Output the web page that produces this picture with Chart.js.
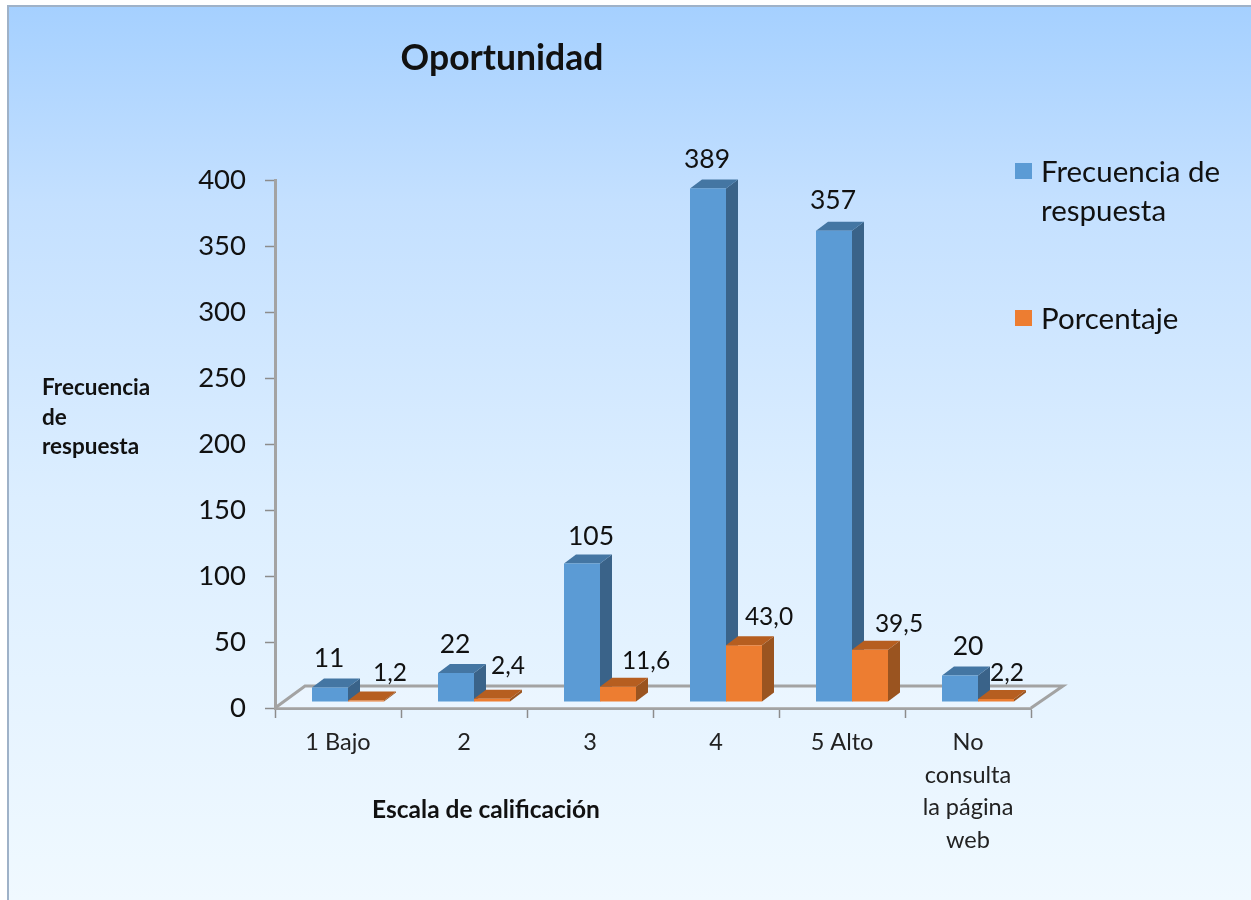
<!DOCTYPE html>
<html lang="es">
<head>
<meta charset="utf-8">
<title>Oportunidad</title>
<script src="https://cdn.jsdelivr.net/npm/chart.js@4/dist/chart.umd.min.js"></script>
<style>html,body{margin:0;padding:0;background:#fff}canvas{display:block}</style>
</head>
<body>
<canvas id="c" width="1251" height="900"></canvas>
<script>
const categories = ["1 Bajo", "2", "3", "4", "5 Alto", ["No", "consulta", "la página", "web"]];
const frecuencia = [11, 22, 105, 389, 357, 20];
const porcentaje = [1.2, 2.4, 11.6, 43.0, 39.5, 2.2];
const seriesNames = ["Frecuencia de respuesta", "Porcentaje"];
const titleText = "Oportunidad";
const yTitleLines = ["Frecuencia", "de", "respuesta"];
const xTitleText = "Escala de calificación";

const FONT = "Lato, Carlito, Calibri, sans-serif";
const TEXT = "#111";
const FACES = [
  {front: "#5B9BD5", top: "#4476A3", side: "#3A6389"},
  {front: "#ED7D31", top: "#B65E20", side: "#9A5420"}
];
// Pseudo-3D projection, pixels
const SHIFT = {x: 10, y: -6}, DEPTH = {x: 12, y: -9}, FLOOR = {left: 30, right: 32, y: -22};
// Hand-placed label offsets from each bar's top-centre, as in the reference
const labelNudge = [
  [[-1, -29], [-1, -29], [9, -27], [-1, -29], [-1, -30], [8, -29]],
  [[24, -27], [16, -33], [28, -26], [25, -28], [29, -26], [11, -26]]
];

function poly(ctx, pts, fill) {
  ctx.beginPath();
  pts.forEach((p, i) => i ? ctx.lineTo(p[0], p[1]) : ctx.moveTo(p[0], p[1]));
  ctx.closePath();
  ctx.fillStyle = fill;
  ctx.fill();
}

const decor = {
  id: "decor",
  beforeDraw(chart) {
    const {ctx, width, height} = chart;
    ctx.save();
    ctx.fillStyle = "#fff";
    ctx.fillRect(0, 0, width, height);
    const g = ctx.createLinearGradient(0, 6, 0, height);
    g.addColorStop(0, "#A5D0FF");
    g.addColorStop(0.22, "#C4E0FF");
    g.addColorStop(0.55, "#DCEEFF");
    g.addColorStop(1, "#F0F9FF");
    ctx.fillStyle = g;
    ctx.fillRect(7, 5, width - 7, height - 5);
    ctx.fillStyle = "#9FB2C8";
    ctx.fillRect(7, 5, width - 7, 2);
    ctx.fillRect(7, 5, 2, height - 5);
    ctx.restore();
  },
  beforeDatasetsDraw(chart) {
    const {ctx, chartArea: a} = chart;
    const b = a.bottom;
    ctx.save();
    poly(ctx, [[a.left, b], [a.left + FLOOR.left, b + FLOOR.y], [a.right + FLOOR.right, b + FLOOR.y], [a.right, b]], "rgba(255,255,255,0.22)");
    ctx.strokeStyle = "#A3A3A3";
    ctx.lineWidth = 3;
    ctx.beginPath();
    ctx.moveTo(a.left, b);
    ctx.lineTo(a.left + FLOOR.left, b + FLOOR.y);
    ctx.lineTo(a.right + FLOOR.right, b + FLOOR.y);
    ctx.lineTo(a.right, b);
    ctx.stroke();
    // Side and top faces of every bar, blue first, so that the library's
    // front faces and the orange faces lie over them.
    ctx.translate(SHIFT.x, SHIFT.y);
    chart.data.datasets.forEach((ds, i) => {
      const c = FACES[i];
      chart.getDatasetMeta(i).data.forEach(el => {
        const l = el.x - el.width / 2, r = el.x + el.width / 2, t = el.y, bt = el.base;
        poly(ctx, [[r, t], [r + DEPTH.x, t + DEPTH.y], [r + DEPTH.x, bt + DEPTH.y], [r, bt]], c.side);
        poly(ctx, [[l, t], [l + DEPTH.x, t + DEPTH.y], [r + DEPTH.x, t + DEPTH.y], [r, t]], c.top);
      });
    });
    ctx.restore();
  },
  beforeDatasetDraw(chart) {
    chart.ctx.save();
    chart.ctx.translate(SHIFT.x, SHIFT.y);
  },
  afterDatasetDraw(chart) {
    chart.ctx.restore();
  },
  afterDraw(chart) {
    const {ctx} = chart;
    ctx.save();
    ctx.textBaseline = "middle";
    ctx.fillStyle = TEXT;

    // Value labels
    ctx.textAlign = "center";
    chart.data.datasets.forEach((ds, i) => {
      ctx.font = (i === 0 ? "26.5px " : "24.5px ") + FONT;
      chart.getDatasetMeta(i).data.forEach((el, j) => {
        const txt = i === 0 ? String(ds.data[j]) : ds.data[j].toFixed(1).replace(".", ",");
        ctx.fillText(txt, el.x + SHIFT.x + labelNudge[i][j][0], el.y + SHIFT.y + labelNudge[i][j][1]);
      });
    });

    // Title and axis titles
    ctx.font = "bold 35.5px " + FONT;
    ctx.fillText(titleText, 502, 59);
    ctx.font = "bold 24.5px " + FONT;
    ctx.fillText(xTitleText, 486, 810);
    ctx.textAlign = "left";
    ctx.font = "bold 22.5px " + FONT;
    yTitleLines.forEach((s, i) => ctx.fillText(s, 42, 388 + i * 29.5));

    // Legend
    ctx.font = "29.5px " + FONT;
    ctx.fillStyle = FACES[0].front;
    ctx.fillRect(1015, 163, 17, 16);
    ctx.fillStyle = FACES[1].front;
    ctx.fillRect(1015, 310, 17, 16);
    ctx.fillStyle = TEXT;
    ctx.fillText("Frecuencia de", 1041, 172);
    ctx.fillText("respuesta", 1041, 211);
    ctx.fillText(seriesNames[1], 1041, 319);
    ctx.restore();
  }
};

new Chart(document.getElementById("c"), {
  type: "bar",
  data: {
    labels: categories,
    datasets: [
      {label: seriesNames[0], data: frecuencia, backgroundColor: FACES[0].front, clip: false},
      {label: seriesNames[1], data: porcentaje, backgroundColor: FACES[1].front, clip: false}
    ]
  },
  options: {
    responsive: false,
    animation: false,
    devicePixelRatio: 1,
    layout: {padding: {left: 175, right: 220, top: 180, bottom: 12}},
    datasets: {bar: {categoryPercentage: 0.5714, barPercentage: 1, borderWidth: 0}},
    plugins: {legend: {display: false}, title: {display: false}, tooltip: {enabled: false}},
    scales: {
      x: {
        afterFit(s) { s.height = 180; },
        grid: {drawOnChartArea: false, offset: true, tickLength: 10, tickColor: "#8C8C8C", tickWidth: 1.5},
        border: {color: "#A3A3A3", width: 3},
        ticks: {color: "#222", padding: 8, maxRotation: 0, autoSkip: false, font: {family: FONT, size: 23.5, lineHeight: 1.39}}
      },
      y: {
        min: 0,
        max: 400,
        afterFit(s) { s.width = 100; },
        grid: {drawOnChartArea: false, tickLength: 10, tickColor: "#8C8C8C", tickWidth: 1.5},
        border: {color: "#A3A3A3", width: 3},
        ticks: {stepSize: 50, color: TEXT, padding: 19, font: {family: FONT, size: 27.5}}
      }
    }
  },
  plugins: [decor]
});
</script>
</body>
</html>
